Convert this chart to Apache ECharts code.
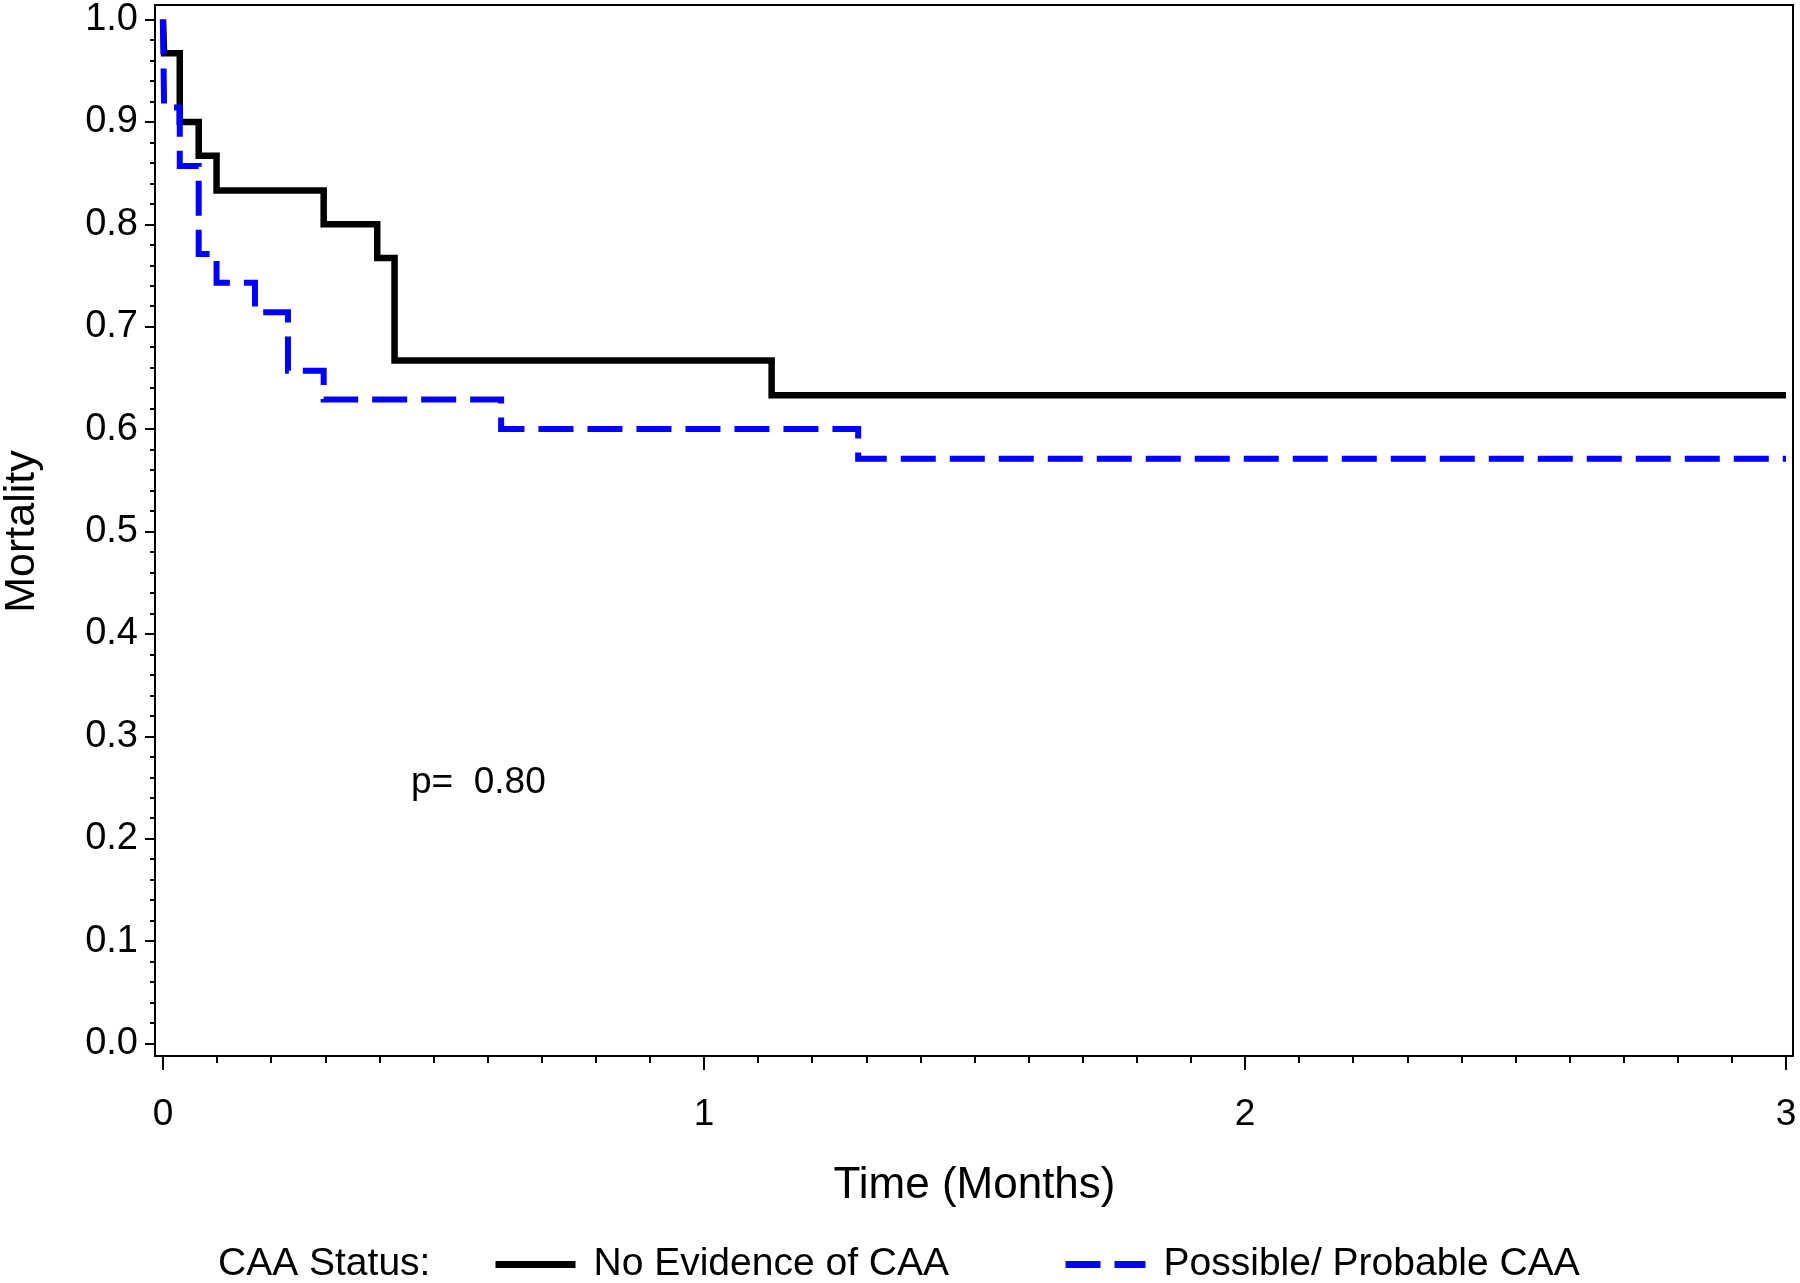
<!DOCTYPE html>
<html>
<head>
<meta charset="utf-8">
<script src="https://cdn.jsdelivr.net/npm/echarts@6/dist/echarts.min.js"></script>
<style>
html,body{margin:0;padding:0;background:#fff;}
#chart{width:1800px;height:1283px;}
</style>
</head>
<body>
<div id="chart"></div>
<script>
// Kaplan-Meier step points (time in months, value)
const timeNoCAA = [0, 0.002, 0.031, 0.066, 0.099, 0.297, 0.396, 0.428, 1.125, 3.0];
const survNoCAA = [1.0, 0.967, 0.9, 0.867, 0.833, 0.8, 0.767, 0.667, 0.633, 0.633];
const timeCAA = [0, 0.002, 0.031, 0.066, 0.099, 0.17, 0.231, 0.297, 0.625, 1.285, 3.0];
const survCAA = [1.0, 0.914, 0.857, 0.771, 0.743, 0.714, 0.657, 0.629, 0.6, 0.571, 0.571];
const seriesNames = ['No Evidence of CAA', 'Possible/ Probable CAA'];
const legendTitle = 'CAA Status:';
const pText = 'p=  0.80';
const xTitle = 'Time (Months)';
const yTitle = 'Mortality';

const FONT = "'Liberation Sans', Arial, Helvetica, sans-serif";
const zip = (a, b) => a.map((t, i) => [t, b[i]]);

const chart = echarts.init(document.getElementById('chart'), null, {renderer: 'canvas'});
chart.setOption({
  animation: false,
  backgroundColor: '#fff',
  textStyle: {fontFamily: FONT, color: '#000'},
  title: [
    {text: legendTitle, left: 218, top: 1245, padding: 0,
     textStyle: {fontFamily: FONT, fontSize: 39, fontWeight: 'normal', color: '#000'}},
    {text: pText, left: 411, top: 764, padding: 0,
     textStyle: {fontFamily: FONT, fontSize: 37, fontWeight: 'normal', color: '#000'}}
  ],
  legend: {
    data: seriesNames,
    left: 492, top: 1245, padding: 0,
    itemWidth: 80, itemHeight: 20, itemGap: 113,
    textStyle: {fontFamily: FONT, fontSize: 39, color: '#000', padding: [0, 0, 0, 13]},
    lineStyle: {width: 7},
    itemStyle: {opacity: 0, borderWidth: 0},
    selectedMode: false
  },
  grid: [
    {left: 155, right: 7, top: 5, bottom: 227, show: true, borderColor: '#000', borderWidth: 2,
     backgroundColor: 'transparent', containLabel: false, outerBoundsMode: 'none'},
    {left: 163, right: 14, top: 19.5, bottom: 239.5, containLabel: false, outerBoundsMode: 'none'}
  ],
  xAxis: [
    {gridIndex: 0, type: 'value', show: false, min: 0, max: 1},
    {gridIndex: 1, type: 'value', min: 0, max: 3, interval: 1, offset: 12.5,
     axisLine: {show: false, onZero: false},
     axisTick: {show: true, length: 14, lineStyle: {color: '#000', width: 2}},
     minorTick: {show: true, splitNumber: 10, length: 7, lineStyle: {color: '#000', width: 2}},
     splitLine: {show: false},
     axisLabel: {margin: 40, fontSize: 37, color: '#000', fontFamily: FONT},
     name: xTitle, nameLocation: 'middle', nameGap: 130,
     nameTextStyle: {fontSize: 44, color: '#000', fontFamily: FONT, verticalAlign: 'middle'}}
  ],
  yAxis: [
    {gridIndex: 0, type: 'value', show: false, min: 0, max: 1},
    {gridIndex: 1, type: 'value', min: 0, max: 1, interval: 0.1, offset: 8,
     axisLine: {show: false, onZero: false},
     axisTick: {show: true, length: 10, lineStyle: {color: '#000', width: 2}},
     minorTick: {show: true, splitNumber: 5, length: 5, lineStyle: {color: '#000', width: 2}},
     splitLine: {show: false},
     axisLabel: {margin: 17, fontSize: 38, color: '#000', fontFamily: FONT,
                 formatter: v => v.toFixed(1)},
     name: yTitle, nameLocation: 'middle', nameGap: 133, nameRotate: 90,
     nameTextStyle: {fontSize: 43, color: '#000', fontFamily: FONT, verticalAlign: 'middle', align: 'center'}}
  ],
  series: [
    {name: seriesNames[0], type: 'line', xAxisIndex: 1, yAxisIndex: 1, step: 'end',
     data: zip(timeNoCAA, survNoCAA), showSymbol: false, symbol: 'none', clip: false,
     color: '#000',
     lineStyle: {color: '#000', width: 6.5, type: 'solid', join: 'miter', cap: 'butt'}},
    {name: seriesNames[1], type: 'line', xAxisIndex: 1, yAxisIndex: 1, step: 'end',
     data: zip(timeCAA, survCAA), showSymbol: false, symbol: 'none', clip: false,
     color: '#0000ff',
     lineStyle: {color: '#0000ff', width: 6, type: [35, 14], join: 'miter', cap: 'butt'}}
  ]
});
</script>
</body>
</html>
